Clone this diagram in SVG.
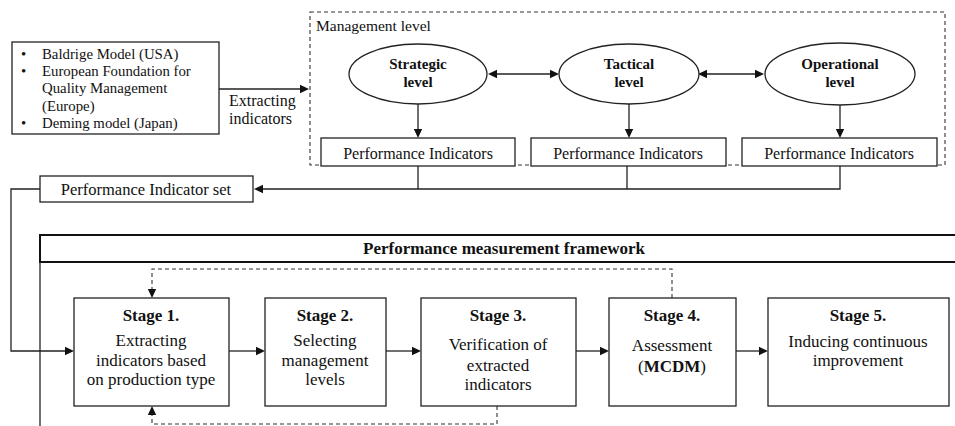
<svg xmlns="http://www.w3.org/2000/svg" width="955" height="426" viewBox="0 0 955 426">
<defs>
<style>
.bx{fill:#fff;stroke:#222;stroke-width:1.3}
.ln{fill:none;stroke:#222;stroke-width:1.3}
.dash{fill:none;stroke:#333;stroke-width:1.1;stroke-dasharray:4 3}
.ah{fill:#111;stroke:none}
.t{fill:#111}
.c{text-anchor:middle}
.b{font-weight:bold}
</style>
</defs>
<rect width="955" height="426" fill="#fff"/>

<g id="management-level">
<rect x="310" y="12" width="635" height="153" class="dash"/>
<text x="316" y="31" class="t" font-family="Liberation Serif" style="font-family:'Liberation Serif',serif !important" font-size="15.5">Management level</text>
</g>

<g id="connectors">
<line x1="219" y1="89" x2="301" y2="89" class="ln"/>
<polygon points="300,84.8 309,89 300,93.2" class="ah"/>
<line x1="496" y1="74" x2="551" y2="74" class="ln"/>
<polygon points="497,69.8 488,74 497,78.2" class="ah"/>
<polygon points="550,69.8 559,74 550,78.2" class="ah"/>
<line x1="706" y1="74" x2="756" y2="74" class="ln"/>
<polygon points="707,69.8 698,74 707,78.2" class="ah"/>
<polygon points="755,69.8 764,74 755,78.2" class="ah"/>
<line x1="418" y1="104" x2="418" y2="130" class="ln"/>
<polygon points="413.8,129 418,138 422.2,129" class="ah"/>
<line x1="629" y1="104" x2="629" y2="130" class="ln"/>
<polygon points="624.8,129 629,138 633.2,129" class="ah"/>
<line x1="840" y1="105" x2="840" y2="130" class="ln"/>
<polygon points="835.8,129 840,138 844.2,129" class="ah"/>
<polyline points="418,166 418,189" class="ln"/>
<polyline points="627,166 627,189" class="ln"/>
<polyline points="840,166 840,189 262,189" class="ln"/>
<polygon points="263,184.8 254,189 263,193.2" class="ah"/>
<polyline points="40,189 11,189 11,351 66,351" class="ln"/>
<polygon points="65,346.8 74,351 65,355.2" class="ah"/>
<line x1="229" y1="351" x2="257" y2="351" class="ln"/>
<polygon points="256,346.8 265,351 256,355.2" class="ah"/>
<line x1="386" y1="351" x2="413" y2="351" class="ln"/>
<polygon points="412,346.8 421,351 412,355.2" class="ah"/>
<line x1="576" y1="351" x2="601" y2="351" class="ln"/>
<polygon points="600,346.8 609,351 600,355.2" class="ah"/>
<line x1="736" y1="351" x2="760" y2="351" class="ln"/>
<polygon points="759,346.8 768,351 759,355.2" class="ah"/>
<polyline points="672,298 672,269 152,269 152,290" class="dash"/>
<polygon points="147.8,289 152,298 156.2,289" class="ah"/>
<polyline points="497,406 497,424 152,424 152,414" class="dash"/>
<polygon points="147.8,415 152,406 156.2,415" class="ah"/>
<text x="229" y="106" class="t" font-family="Liberation Serif" style="font-family:'Liberation Serif',serif !important" font-size="16">Extracting</text>
<text x="229" y="124" class="t" font-family="Liberation Serif" style="font-family:'Liberation Serif',serif !important" font-size="16">indicators</text>
</g>

<g id="sources">
<rect x="12" y="42" width="207" height="92" class="bx"/>
<text x="21" y="59" class="t" font-family="Liberation Serif" style="font-family:'Liberation Serif',serif !important" font-size="14.8">&#8226;</text>
<text x="42" y="59" class="t" font-family="Liberation Serif" style="font-family:'Liberation Serif',serif !important" font-size="14.8">Baldrige Model (USA)</text>
<text x="21" y="76" class="t" font-family="Liberation Serif" style="font-family:'Liberation Serif',serif !important" font-size="14.8">&#8226;</text>
<text x="42" y="76" class="t" font-family="Liberation Serif" style="font-family:'Liberation Serif',serif !important" font-size="14.8">European Foundation for</text>
<text x="42" y="93" class="t" font-family="Liberation Serif" style="font-family:'Liberation Serif',serif !important" font-size="14.8">Quality Management</text>
<text x="42" y="111" class="t" font-family="Liberation Serif" style="font-family:'Liberation Serif',serif !important" font-size="14.8">(Europe)</text>
<text x="21" y="128" class="t" font-family="Liberation Serif" style="font-family:'Liberation Serif',serif !important" font-size="14.8">&#8226;</text>
<text x="42" y="128" class="t" font-family="Liberation Serif" style="font-family:'Liberation Serif',serif !important" font-size="14.8">Deming model (Japan)</text>
</g>

<g id="strategic">
<ellipse cx="418" cy="74" rx="69" ry="30" class="bx"/>
<text x="418" y="69" class="t c b" font-family="Liberation Serif" style="font-family:'Liberation Serif',serif !important" font-size="15">Strategic</text>
<text x="418" y="87" class="t c b" font-family="Liberation Serif" style="font-family:'Liberation Serif',serif !important" font-size="15">level</text>
</g>
<g id="tactical">
<ellipse cx="629" cy="74" rx="70" ry="30" class="bx"/>
<text x="629" y="69" class="t c b" font-family="Liberation Serif" style="font-family:'Liberation Serif',serif !important" font-size="15">Tactical</text>
<text x="629" y="87" class="t c b" font-family="Liberation Serif" style="font-family:'Liberation Serif',serif !important" font-size="15">level</text>
</g>
<g id="operational">
<ellipse cx="840" cy="74" rx="75" ry="31" class="bx"/>
<text x="840" y="69" class="t c b" font-family="Liberation Serif" style="font-family:'Liberation Serif',serif !important" font-size="15">Operational</text>
<text x="840" y="87" class="t c b" font-family="Liberation Serif" style="font-family:'Liberation Serif',serif !important" font-size="15">level</text>
</g>

<g id="pi-1">
<rect x="321" y="138" width="194" height="28" class="bx"/>
<text x="418" y="159" class="t c" font-family="Liberation Serif" style="font-family:'Liberation Serif',serif !important" font-size="16">Performance Indicators</text>
</g>
<g id="pi-2">
<rect x="531" y="138" width="195" height="28" class="bx"/>
<text x="628" y="159" class="t c" font-family="Liberation Serif" style="font-family:'Liberation Serif',serif !important" font-size="16">Performance Indicators</text>
</g>
<g id="pi-3">
<rect x="742" y="138" width="195" height="28" class="bx"/>
<text x="839" y="159" class="t c" font-family="Liberation Serif" style="font-family:'Liberation Serif',serif !important" font-size="16">Performance Indicators</text>
</g>

<g id="pi-set">
<rect x="40" y="176" width="213" height="26" class="bx"/>
<text x="146" y="195" class="t c" font-family="Liberation Serif" style="font-family:'Liberation Serif',serif !important" font-size="16.5">Performance Indicator set</text>
</g>

<g id="framework">
<rect x="40" y="235" width="930" height="27" fill="#fff" stroke="#111" stroke-width="2"/>
<line x1="40" y1="262" x2="40" y2="430" class="ln"/>
<text x="504" y="254" class="t c b" font-family="Liberation Serif" style="font-family:'Liberation Serif',serif !important" font-size="17">Performance measurement framework</text>
</g>

<g id="stage-1">
<rect x="74" y="298" width="155" height="108" class="bx"/>
<text x="151" y="321" class="t c b" font-family="Liberation Serif" style="font-family:'Liberation Serif',serif !important" font-size="17">Stage 1.</text>
<text x="151" y="346" class="t c" font-family="Liberation Serif" style="font-family:'Liberation Serif',serif !important" font-size="17">Extracting</text>
<text x="151" y="366" class="t c" font-family="Liberation Serif" style="font-family:'Liberation Serif',serif !important" font-size="17">indicators based</text>
<text x="151" y="385" class="t c" font-family="Liberation Serif" style="font-family:'Liberation Serif',serif !important" font-size="17">on production type</text>
</g>
<g id="stage-2">
<rect x="265" y="298" width="121" height="108" class="bx"/>
<text x="325" y="321" class="t c b" font-family="Liberation Serif" style="font-family:'Liberation Serif',serif !important" font-size="17">Stage 2.</text>
<text x="325" y="346" class="t c" font-family="Liberation Serif" style="font-family:'Liberation Serif',serif !important" font-size="17">Selecting</text>
<text x="325" y="366" class="t c" font-family="Liberation Serif" style="font-family:'Liberation Serif',serif !important" font-size="17">management</text>
<text x="325" y="385" class="t c" font-family="Liberation Serif" style="font-family:'Liberation Serif',serif !important" font-size="17">levels</text>
</g>
<g id="stage-3">
<rect x="421" y="298" width="155" height="108" class="bx"/>
<text x="498" y="321" class="t c b" font-family="Liberation Serif" style="font-family:'Liberation Serif',serif !important" font-size="17">Stage 3.</text>
<text x="498" y="350" class="t c" font-family="Liberation Serif" style="font-family:'Liberation Serif',serif !important" font-size="17">Verification of</text>
<text x="498" y="371" class="t c" font-family="Liberation Serif" style="font-family:'Liberation Serif',serif !important" font-size="17">extracted</text>
<text x="498" y="390" class="t c" font-family="Liberation Serif" style="font-family:'Liberation Serif',serif !important" font-size="17">indicators</text>
</g>
<g id="stage-4">
<rect x="609" y="298" width="127" height="108" class="bx"/>
<text x="672" y="321" class="t c b" font-family="Liberation Serif" style="font-family:'Liberation Serif',serif !important" font-size="17">Stage 4.</text>
<text x="672" y="351" class="t c" font-family="Liberation Serif" style="font-family:'Liberation Serif',serif !important" font-size="17">Assessment</text>
<text x="672" y="372" class="t c" font-family="Liberation Serif" style="font-family:'Liberation Serif',serif !important" font-size="17">(<tspan font-weight="bold">MCDM</tspan>)</text>
</g>
<g id="stage-5">
<rect x="768" y="298" width="181" height="108" class="bx"/>
<text x="858" y="321" class="t c b" font-family="Liberation Serif" style="font-family:'Liberation Serif',serif !important" font-size="17">Stage 5.</text>
<text x="858" y="347" class="t c" font-family="Liberation Serif" style="font-family:'Liberation Serif',serif !important" font-size="17">Inducing continuous</text>
<text x="858" y="366" class="t c" font-family="Liberation Serif" style="font-family:'Liberation Serif',serif !important" font-size="17">improvement</text>
</g>
</svg>
